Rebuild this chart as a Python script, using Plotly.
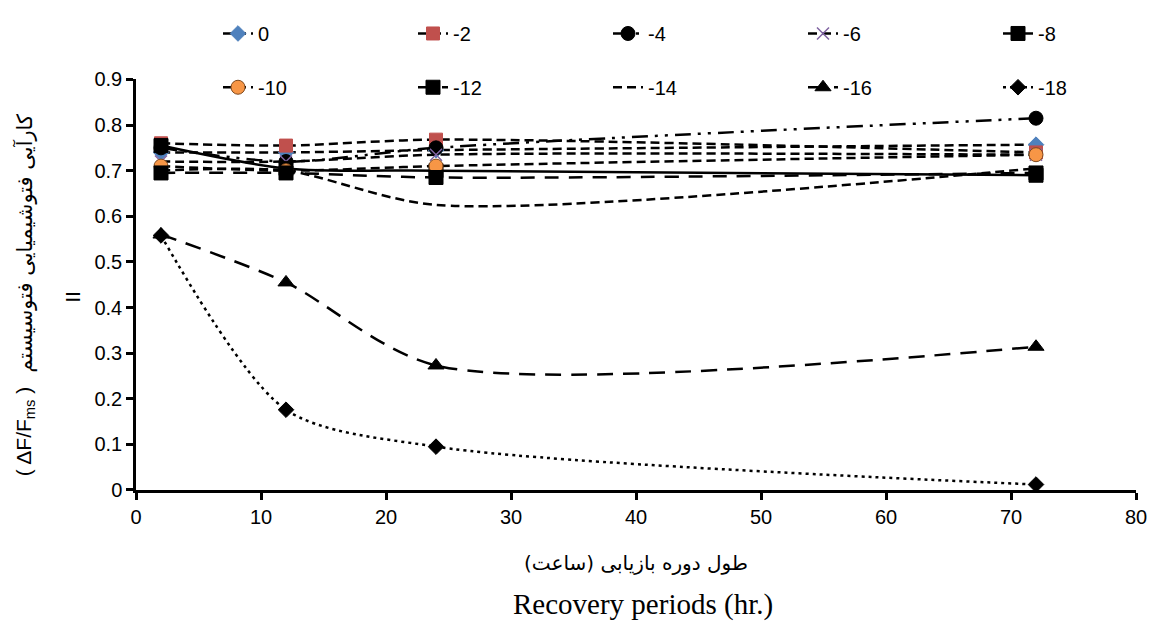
import plotly.graph_objects as go

hours = [2, 12, 24, 72]
names = ["0", "-2", "-4", "-6", "-8", "-10", "-12", "-14", "-16", "-18"]
v0 = [0.74, 0.74, 0.745, 0.757]
v2 = [0.76, 0.755, 0.768, 0.74]
v4 = [0.75, 0.72, 0.75, 0.815]
v6 = [0.72, 0.72, 0.735, 0.735]
v8 = [0.755, 0.705, 0.70, 0.69]
v10 = [0.71, 0.70, 0.71, 0.735]
v12 = [0.695, 0.695, 0.685, 0.695]
v14 = [0.70, 0.70, 0.625, 0.705]
v16 = [0.56, 0.455, 0.273, 0.314]
v18 = [0.558, 0.176, 0.095, 0.012]
values = [v0, v2, v4, v6, v8, v10, v12, v14, v16, v18]

y_ticks = [0, 0.1, 0.2, 0.3, 0.4, 0.5, 0.6, 0.7, 0.8, 0.9]
y_ticktext = ["0", "0.1", "0.2", "0.3", "0.4", "0.5", "0.6", "0.7", "0.8", "0.9"]
x_ticks = [0, 10, 20, 30, 40, 50, 60, 70, 80]

short = "9px,5px"
styles = [
    dict(dash=short, symbol="diamond", mcolor="#4F81BD", mline="#4F81BD", msize=12),
    dict(dash=short, symbol="square", mcolor="#C0504D", mline="#C0504D", msize=13),
    dict(dash="16px,7px,3px,7px,3px,7px", symbol="circle", mcolor="black", mline="black", msize=14),
    dict(dash=short, symbol="x-thin", mcolor="#8064A2", mline="#8064A2", msize=12),
    dict(dash="solid", symbol="square", mcolor="black", mline="black", msize=14),
    dict(dash=short, symbol="circle", mcolor="#F79646", mline="#7F4A1E", msize=14),
    dict(dash="14px,10px", symbol="square", mcolor="black", mline="black", msize=14),
    dict(dash=short, symbol=None, mcolor="black", mline="black", msize=0),
    dict(dash="16px,10px", symbol="triangle-up", mcolor="black", mline="black", msize=14),
    dict(dash="3px,4px", symbol="diamond", mcolor="black", mline="black", msize=12),
]

tickfont = dict(family="Liberation Sans, Arial, sans-serif", size=20, color="black")

W, H = 1161, 630
PL, PW = 136, 1000
AXIS_TOP, AXIS_BOTTOM = 70, 490   # compensates the small top push made by the legends
PAPER_H = AXIS_BOTTOM


def px_x(p):
    return (p - PL) / PW


def px_y(p):
    return (AXIS_BOTTOM - p) / PAPER_H


fig = go.Figure()
legend_layout = {}
col_px = [238, 433, 628, 823, 1018]
row_mid_px = [23, 78]
for i, (nm, vals, st) in enumerate(zip(names, values, styles)):
    mode = "lines+markers" if st["symbol"] else "lines"
    marker = dict(symbol=st["symbol"], color=st["mcolor"], size=st["msize"],
                  line=dict(color=st["mline"], width=1.5 if st["symbol"] == "x-thin" else 1)) if st["symbol"] else None
    lid = "legend" if i == 0 else "legend%d" % (i + 1)
    fig.add_trace(go.Scatter(
        x=hours, y=vals, name=nm, mode=mode,
        line=dict(color="black", width=2.5, dash=st["dash"], shape="spline", smoothing=0.8),
        marker=marker,
        legend=lid,
    ))
    legend_layout[lid] = dict(
        orientation="h",
        x=px_x(col_px[i % 5] - 20), xanchor="left",
        y=px_y(row_mid_px[i // 5]), yanchor="middle", font=tickfont, bgcolor="rgba(0,0,0,0)",
    )

fig.update_layout(
    width=W, height=H,
    margin=dict(l=PL, r=W - PL - PW, t=0, b=H - AXIS_BOTTOM),
    paper_bgcolor="white", plot_bgcolor="white",
    showlegend=True,
    xaxis=dict(range=[0, 80], tickvals=x_ticks, ticks="outside", ticklen=7, tickwidth=2.5,
               tickcolor="black", showline=True, linecolor="black", linewidth=2.5,
               showgrid=False, zeroline=False, tickfont=tickfont),
    yaxis=dict(range=[0, 0.9], domain=[0, (AXIS_BOTTOM - AXIS_TOP) / PAPER_H],
               tickvals=y_ticks, ticktext=y_ticktext, ticks="outside",
               ticklen=7, tickwidth=2.5, tickcolor="black", showline=True, linecolor="black",
               linewidth=2.5, showgrid=False, zeroline=False, tickfont=tickfont),
    **legend_layout,
)

fig.add_annotation(
    text="کارآیی فتوشیمیایی فتوسیستم",
    xref="paper", yref="paper", x=px_x(25), y=px_y(238), textangle=-90,
    xanchor="center", yanchor="middle",
    showarrow=False, font=dict(family="DejaVu Sans, sans-serif", size=21, color="black"),
)
fig.add_annotation(
    text="( ΔF/F<sub>ms</sub> )",
    xref="paper", yref="paper", x=px_x(25), y=px_y(430), textangle=-90,
    xanchor="center", yanchor="middle",
    showarrow=False, font=dict(family="Liberation Sans, Arial, sans-serif", size=21, color="black"),
)
fig.add_annotation(
    text="II", xref="paper", yref="paper", x=px_x(73), y=px_y(293), textangle=-90,
    xanchor="center", yanchor="middle",
    showarrow=False, font=dict(family="Liberation Sans, sans-serif", size=20, color="black"),
)
fig.add_annotation(
    text="\u200fطول دوره بازیابی (ساعت)\u200f",
    xref="paper", yref="paper", x=px_x(636), y=px_y(565), xanchor="center", yanchor="middle",
    showarrow=False, font=dict(family="DejaVu Sans, serif", size=20, color="black"),
)
fig.add_annotation(
    text="Recovery periods (hr.)",
    xref="paper", yref="paper", x=px_x(643), y=px_y(607), xanchor="center", yanchor="middle",
    showarrow=False, font=dict(family="Liberation Serif, Times New Roman, serif", size=29, color="black"),
)

fig.write_html("out.html")
